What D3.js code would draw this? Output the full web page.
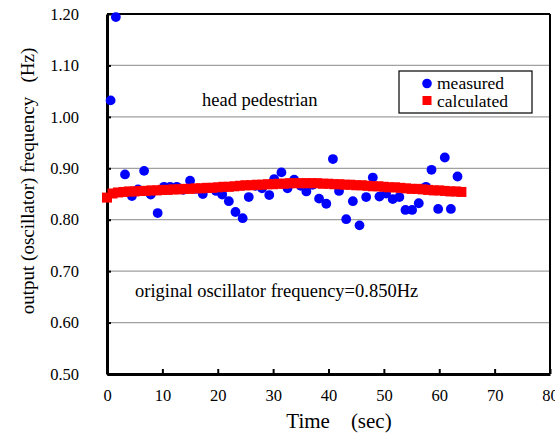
<!DOCTYPE html>
<html>
<head>
<meta charset="utf-8">
<script src="https://cdnjs.cloudflare.com/ajax/libs/d3/7.8.5/d3.min.js"></script>
<style>
  body { margin: 0; background: #fff; }
  text { font-family: "Liberation Serif", "Times New Roman", serif; fill: #000; }
</style>
</head>
<body>
<div id="chart"></div>
<script>
// measured oscillator frequency (blue dots)
var measuredTime = [0.65, 1.6, 3.25, 4.5, 5.6, 6.7, 7.9, 9.15, 10.3, 11.4, 12.6, 13.8, 15.0, 16.1,
    17.3, 18.5, 19.7, 20.8, 22.0, 23.2, 24.5, 25.6, 26.8, 28.0, 29.3, 30.2, 31.5, 32.6, 33.8,
    35.0, 36.0, 37.1, 38.3, 39.6, 40.8, 41.9, 43.2, 44.4, 45.6, 46.8, 48.0, 49.2, 50.4, 51.6,
    52.8, 53.9, 55.1, 56.3, 57.6, 58.6, 59.8, 61.0, 62.1, 63.3];
var measuredFreq = [1.032, 1.194, 0.888, 0.846, 0.859, 0.895, 0.849, 0.813, 0.864, 0.864, 0.864, 0.858, 0.876, 0.860,
    0.850, 0.862, 0.856, 0.849, 0.836, 0.815, 0.803, 0.844, 0.866, 0.861, 0.848, 0.879, 0.892, 0.861, 0.878,
    0.866, 0.855, 0.868, 0.841, 0.831, 0.918, 0.856, 0.801, 0.836, 0.789, 0.844, 0.882, 0.845, 0.851, 0.840,
    0.844, 0.819, 0.819, 0.832, 0.864, 0.897, 0.821, 0.921, 0.821, 0.884];

// calculated frequency (red squares)
var calcTime = [0, 1, 2, 3, 4, 5, 6, 7, 8, 9, 10, 11, 12, 13, 14, 15, 16, 17, 18, 19, 20, 21, 22, 23, 24,
    25, 26, 27, 28, 29, 30, 31, 32, 33, 34, 35, 36, 37, 38, 39, 40, 41, 42, 43, 44, 45, 46, 47, 48, 49,
    50, 51, 52, 53, 54, 55, 56, 57, 58, 59, 60, 61, 62, 63, 64];
var calcFreq = [0.843, 0.851, 0.853, 0.854, 0.855, 0.855, 0.856, 0.856, 0.857, 0.857, 0.858, 0.858, 0.859,
    0.859, 0.860, 0.860, 0.861, 0.861, 0.862, 0.862, 0.863, 0.864, 0.864, 0.865, 0.866, 0.867, 0.867,
    0.868, 0.868, 0.869, 0.869, 0.870, 0.870, 0.871, 0.871, 0.871, 0.871, 0.871, 0.871, 0.870, 0.870,
    0.869, 0.869, 0.868, 0.868, 0.867, 0.867, 0.866, 0.865, 0.865, 0.864, 0.863, 0.863, 0.862, 0.861,
    0.860, 0.860, 0.859, 0.858, 0.857, 0.857, 0.856, 0.855, 0.855, 0.854];

var xTicks = [0, 10, 20, 30, 40, 50, 60, 70, 80];
var yTicks = [0.5, 0.6, 0.7, 0.8, 0.9, 1.0, 1.1, 1.2];

var width = 555, height = 434;
var plotL = 107, plotR = 550, plotT = 14, plotB = 374;

var svg = d3.select("#chart").append("svg")
    .attr("width", width)
    .attr("height", height);

var x = d3.scaleLinear().domain([0, 80]).range([plotL, plotR]);
var y = d3.scaleLinear().domain([0.5, 1.2]).range([plotB, plotT]);

// grid lines
svg.append("g")
    .selectAll("line")
    .data(yTicks.slice(1, -1))
    .enter()
    .append("line")
    .attr("x1", plotL).attr("x2", plotR)
    .attr("y1", function (d) { return y(d); })
    .attr("y2", function (d) { return y(d); })
    .attr("stroke", "#a0a0a0")
    .attr("stroke-width", 1.3);

// frame: top and right thin, left and bottom heavy
svg.append("line").attr("x1", plotL).attr("x2", plotR).attr("y1", plotT).attr("y2", plotT)
    .attr("stroke", "#000").attr("stroke-width", 2);
svg.append("line").attr("x1", plotR).attr("x2", plotR).attr("y1", plotT).attr("y2", plotB)
    .attr("stroke", "#000").attr("stroke-width", 2);

var xAxis = d3.axisBottom(x).tickValues(xTicks).tickSizeInner(-5).tickSizeOuter(0).tickPadding(15);
var yAxis = d3.axisLeft(y).tickValues(yTicks).tickSizeInner(-4).tickSizeOuter(0).tickPadding(28)
    .tickFormat(d3.format(".2f"));

var gx = svg.append("g").attr("transform", "translate(0," + plotB + ")").call(xAxis);
var gy = svg.append("g").attr("transform", "translate(" + plotL + ",0)").call(yAxis);

[gx, gy].forEach(function (g) {
    g.select(".domain").attr("stroke", "#000").attr("stroke-width", 3);
    g.selectAll(".tick line").attr("stroke", "#000").attr("stroke-width", 2);
    g.selectAll(".tick text")
        .attr("font-family", "Liberation Serif, serif")
        .attr("font-size", 16.5)
        .attr("fill", "#000");
});

// measured dots (drawn first, the red band sits over them)
var meas = measuredTime.map(function (t, i) { return {t: t, f: measuredFreq[i]}; });
svg.append("g")
    .selectAll("circle")
    .data(meas)
    .enter()
    .append("circle")
    .attr("cx", function (d) { return x(d.t); })
    .attr("cy", function (d) { return y(d.f); })
    .attr("r", 4.9)
    .attr("fill", "#0000ff");

// calculated squares
var calc = calcTime.map(function (t, i) { return {t: t, f: calcFreq[i]}; });
svg.append("g")
    .selectAll("rect")
    .data(calc)
    .enter()
    .append("rect")
    .attr("x", function (d) { return x(d.t) - 5; })
    .attr("y", function (d) { return y(d.f) - 5; })
    .attr("width", 10)
    .attr("height", 10)
    .attr("fill", "#ff0000");

// legend
var legend = svg.append("g").attr("transform", "translate(399,71)");
legend.append("rect")
    .attr("width", 133).attr("height", 42)
    .attr("fill", "#fff").attr("stroke", "#000").attr("stroke-width", 1.2);
legend.append("circle").attr("cx", 28).attr("cy", 12.5).attr("r", 4.8).attr("fill", "#0000ff");
legend.append("rect").attr("x", 23.5).attr("y", 25).attr("width", 9).attr("height", 9).attr("fill", "#ff0000");
legend.append("text").attr("x", 38).attr("y", 18).attr("font-size", 17.5).text("measured");
legend.append("text").attr("x", 38).attr("y", 36).attr("font-size", 17.5).text("calculated");

// annotations
svg.append("text").attr("x", 202).attr("y", 106).attr("font-size", 18.5).text("head pedestrian");
svg.append("text").attr("x", 135).attr("y", 297).attr("font-size", 18.5)
    .text("original oscillator frequency=0.850Hz");

// axis titles
svg.append("text")
    .attr("x", 339).attr("y", 428)
    .attr("text-anchor", "middle")
    .attr("font-size", 21)
    .style("white-space", "pre")
    .text("Time    (sec)");

svg.append("text")
    .attr("transform", "translate(34,181) rotate(-90)")
    .attr("text-anchor", "middle")
    .attr("font-size", 19)
    .style("white-space", "pre")
    .text("output (oscillator) frequency   (Hz)");
</script>
</body>
</html>
